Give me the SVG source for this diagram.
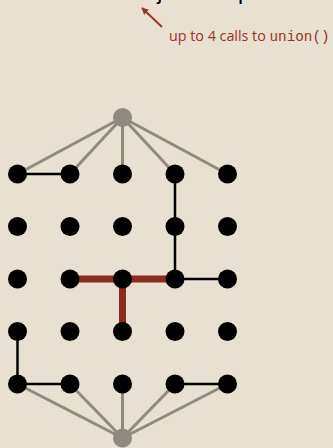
<svg xmlns="http://www.w3.org/2000/svg" width="333" height="448" viewBox="0 0 333 448">
<style>
.g{stroke:#8f8a80;stroke-width:3;fill:none}
.k{stroke:#000;stroke-width:2.5;fill:none}
.r{stroke:#8b2a1e;stroke-width:7;fill:none}
.site{fill:#000}
.virt{fill:#8f8a80}
.ann{fill:#9b3326;font-family:"Open Sans","Liberation Sans",sans-serif;font-size:14.3px}
.mono{font-family:"Liberation Mono",monospace}
</style>
<defs>
<marker id="ah" viewBox="0 0 10 10" refX="9" refY="5" markerWidth="7" markerHeight="7" orient="auto" markerUnits="userSpaceOnUse">
<path d="M0,0 L10,5 L0,10 z" fill="#9b3326"/>
</marker>
</defs>
<rect width="333" height="448" fill="#e8e0d1"/>
<text x="-83" y="-1" font-family="Liberation Sans,sans-serif" font-size="23" fill="#000">connect it to all of its adjacent open sites</text>
<g id="connectors">
<path class="g" d="M122.5 117.5L17.5 174M122.5 117.5L70 174M122.5 117.5L122.5 174M122.5 117.5L175 174M122.5 117.5L227.5 174"/>
<path class="g" d="M122.5 438L17.5 384M122.5 438L70 384M122.5 438L122.5 384M122.5 438L175 384M122.5 438L227.5 384"/>
<path class="k" d="M17.5 174H70M175 174V279H227.5M17.5 331.5V384H70M175 384H227.5"/>
<path class="r" d="M70 279H175M122.5 279V331.5"/>
<path d="M162 27L142 8" stroke="#9b3326" stroke-width="2" marker-end="url(#ah)"/>
</g>
<g id="top"><circle class="virt" cx="122.5" cy="117.5" r="9.5"/></g>
<g id="bottom"><circle class="virt" cx="122.5" cy="438" r="9.5"/></g>
<g id="sites">
<g id="r0"><circle class="site" cx="17.5" cy="174" r="9.5"/><circle class="site" cx="70" cy="174" r="9.5"/><circle class="site" cx="122.5" cy="174" r="9.5"/><circle class="site" cx="175" cy="174" r="9.5"/><circle class="site" cx="227.5" cy="174" r="9.5"/></g>
<g id="r1"><circle class="site" cx="17.5" cy="226.5" r="9.5"/><circle class="site" cx="70" cy="226.5" r="9.5"/><circle class="site" cx="122.5" cy="226.5" r="9.5"/><circle class="site" cx="175" cy="226.5" r="9.5"/><circle class="site" cx="227.5" cy="226.5" r="9.5"/></g>
<g id="r2"><circle class="site" cx="17.5" cy="279" r="9.5"/><circle class="site" cx="70" cy="279" r="9.5"/><circle class="site" cx="122.5" cy="279" r="9.5"/><circle class="site" cx="175" cy="279" r="9.5"/><circle class="site" cx="227.5" cy="279" r="9.5"/></g>
<g id="r3"><circle class="site" cx="17.5" cy="331.5" r="9.5"/><circle class="site" cx="70" cy="331.5" r="9.5"/><circle class="site" cx="122.5" cy="331.5" r="9.5"/><circle class="site" cx="175" cy="331.5" r="9.5"/><circle class="site" cx="227.5" cy="331.5" r="9.5"/></g>
<g id="r4"><circle class="site" cx="17.5" cy="384" r="9.5"/><circle class="site" cx="70" cy="384" r="9.5"/><circle class="site" cx="122.5" cy="384" r="9.5"/><circle class="site" cx="175" cy="384" r="9.5"/><circle class="site" cx="227.5" cy="384" r="9.5"/></g>
</g>
<g id="annotation"><text class="ann" x="169" y="41">up to 4 calls to <tspan class="mono">union()</tspan></text></g>
</svg>
